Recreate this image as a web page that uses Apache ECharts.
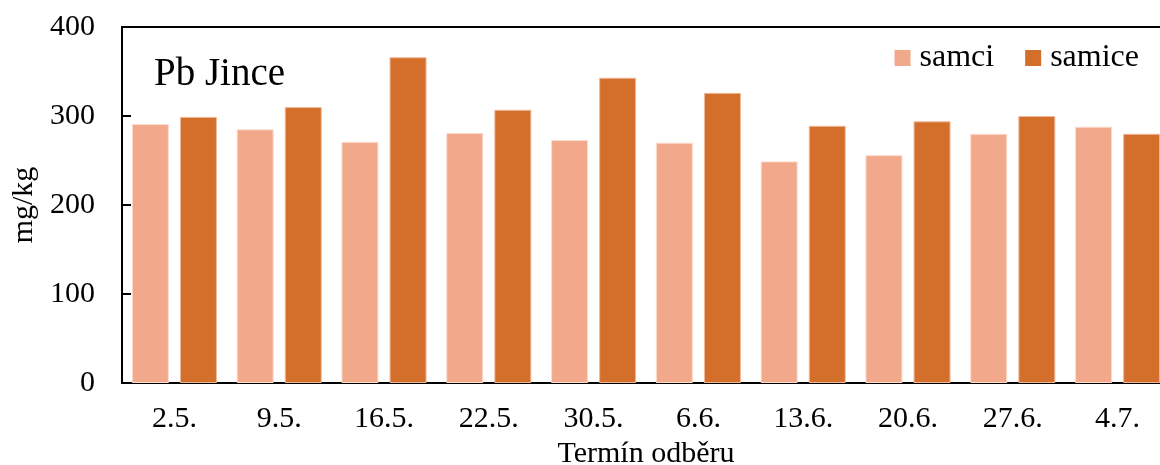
<!DOCTYPE html>
<html>
<head>
<meta charset="utf-8">
<script src="https://cdn.jsdelivr.net/npm/echarts@6/dist/echarts.min.js"></script>
<style>
  body { margin: 0; background: #fff; }
  #chart { width: 1160px; height: 465px; }
</style>
</head>
<body>
<div id="chart"></div>
<script>
let dates = ['2.5.', '9.5.', '16.5.', '22.5.', '30.5.', '6.6.', '13.6.', '20.6.', '27.6.', '4.7.']
let samci = [291, 285, 271, 281, 273, 270, 249, 256, 280, 288]
let samice = [299, 310, 366, 307, 343, 326, 289, 294, 300, 280]

let font = 'Liberation Serif'
var chart = echarts.init(document.getElementById('chart'))

let option = {
  animation: false,
  textStyle: { fontFamily: font },
  title: {
    text: 'Pb Jince',
    left: 154,
    top: 55,
    padding: 0,
    textStyle: { fontFamily: font, fontSize: 39, fontWeight: 'normal', color: '#000' }
  },
  legend: {
    right: 21,
    top: 42,
    padding: 0,
    itemWidth: 16,
    itemHeight: 16,
    itemGap: 31,
    icon: 'rect',
    itemStyle: { borderWidth: 0 },
    textStyle: { fontFamily: font, fontSize: 32, color: '#000', padding: [0, 0, 0, 4] },
    data: ['samci', 'samice']
  },
  grid: {
    left: 122,
    top: 27,
    width: 1048,
    height: 356,
    outerBoundsMode: 'none',
    containLabel: false,
    show: true,
    borderColor: '#000',
    borderWidth: 2
  },
  xAxis: {
    type: 'category',
    data: dates,
    name: 'Termín odběru',
    nameLocation: 'middle',
    nameGap: 50,
    nameTextStyle: { fontFamily: font, fontSize: 30, color: '#000' },
    axisLine: { lineStyle: { color: '#000', width: 2 } },
    axisTick: { show: false },
    axisLabel: { fontFamily: font, fontSize: 30, color: '#000', margin: 21 }
  },
  yAxis: {
    type: 'value',
    min: 0,
    max: 400,
    interval: 100,
    name: 'mg/kg',
    nameLocation: 'middle',
    nameGap: 82,
    nameTextStyle: { fontFamily: font, fontSize: 30, color: '#000' },
    axisLine: { show: true, lineStyle: { color: '#000', width: 2 } },
    axisTick: { show: true, inside: true, length: 9, lineStyle: { color: '#000', width: 2 } },
    splitLine: { show: false },
    axisLabel: { fontFamily: font, fontSize: 30, color: '#000', margin: 27 }
  },
  series: [
    {
      name: 'samci',
      type: 'bar',
      data: samci,
      barWidth: 37,
      barGap: '30%',
      itemStyle: { color: '#F2A98B', borderColor: '#FBDCCD', borderWidth: 1 }
    },
    {
      name: 'samice',
      type: 'bar',
      data: samice,
      barWidth: 37,
      barGap: '30%',
      itemStyle: { color: '#D36F2B', borderColor: '#F0B999', borderWidth: 1 }
    }
  ]
}
chart.setOption(option)
</script>
</body>
</html>
